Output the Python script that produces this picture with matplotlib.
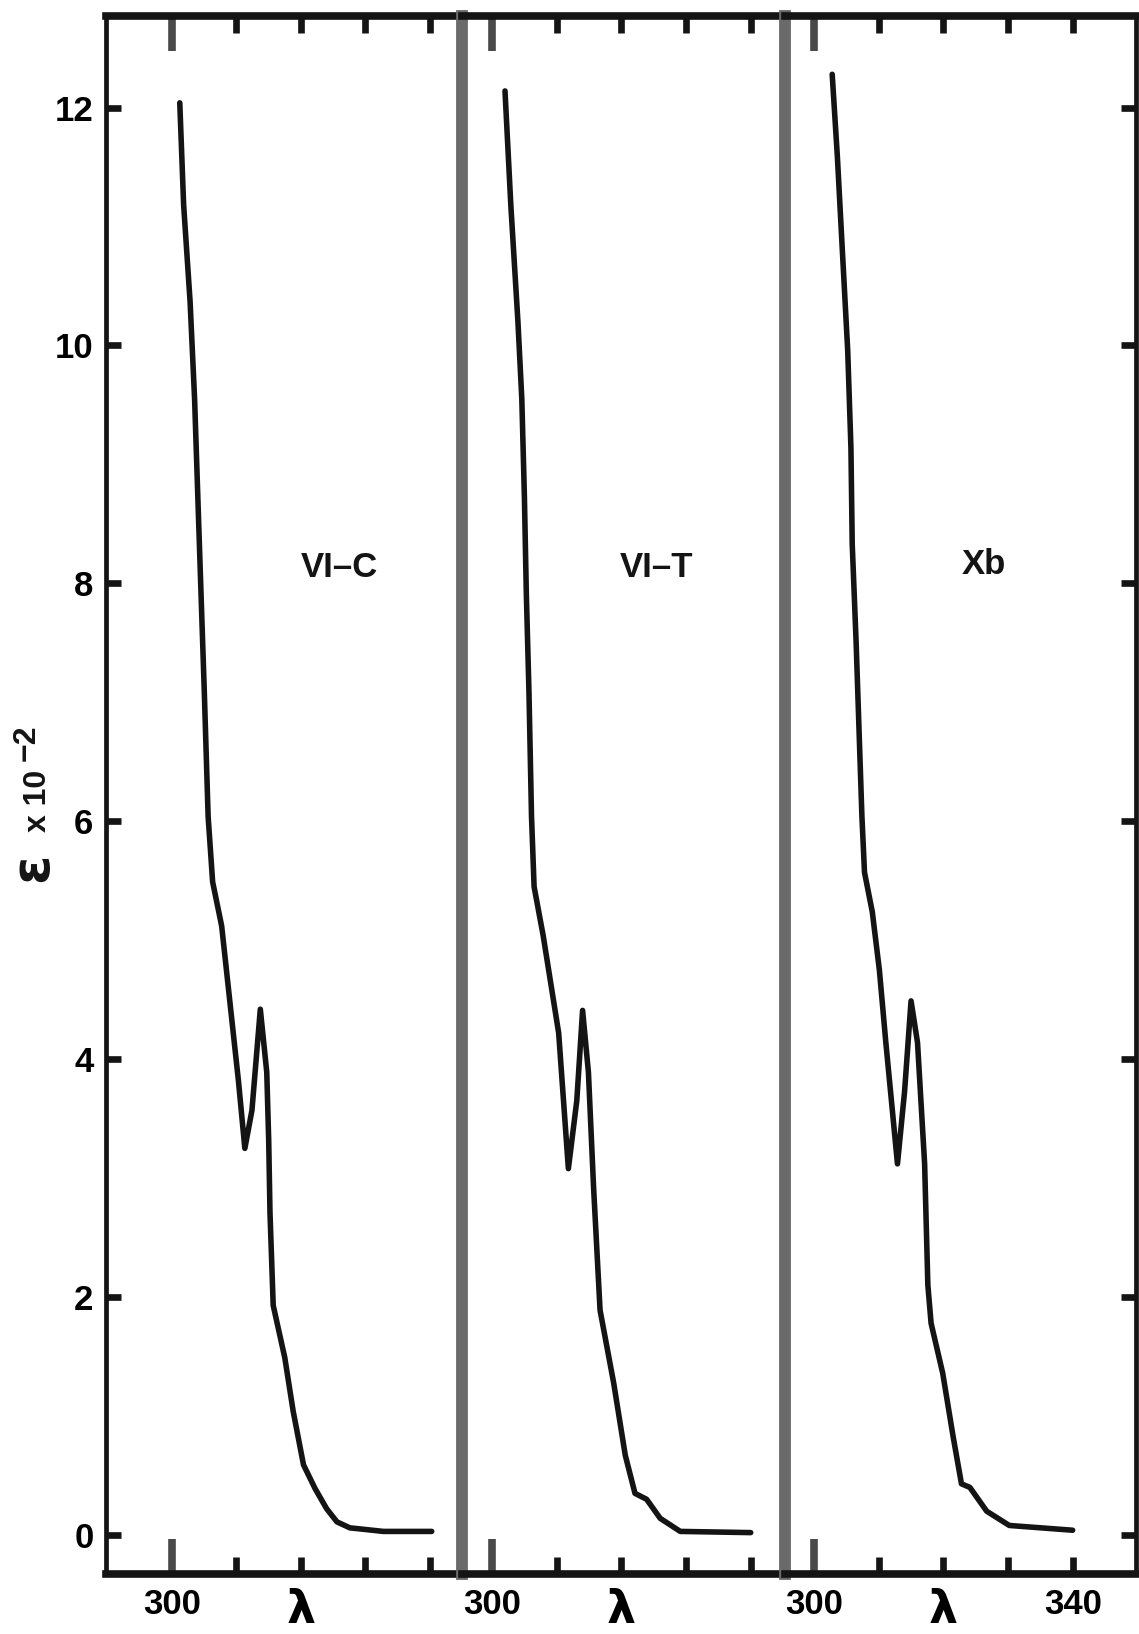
import matplotlib
matplotlib.use("Agg")
import matplotlib.pyplot as plt

# ---- data (wavelength nm, epsilon x 10^-2) ----
wl_vic = [301.2, 301.8, 302.8, 303.5, 304.0, 304.5, 305.0, 305.6, 306.3, 307.7, 309.0,
          310.3, 311.3, 312.4, 313.7, 314.7, 315.0, 315.2, 315.7, 317.5, 318.8, 320.4,
          322.2, 324.0, 325.6, 327.6, 332.8, 340.3]
eps_vic = [12.04, 11.18, 10.37, 9.55, 8.73, 7.91, 7.10, 6.04, 5.49, 5.12, 4.47,
           3.82, 3.25, 3.57, 4.42, 3.89, 3.32, 2.71, 1.93, 1.49, 1.04, 0.59,
           0.39, 0.22, 0.11, 0.06, 0.03, 0.03]

wl_vit = [302.0, 302.9, 304.0, 304.6, 305.0, 305.3, 305.7, 306.1, 306.5, 307.9, 310.3,
          311.8, 313.1, 314.0, 314.9, 315.7, 316.7, 318.8, 320.6, 322.1, 323.9, 326.0,
          329.1, 340.0]
eps_vit = [12.14, 11.18, 10.20, 9.55, 8.73, 7.91, 7.10, 6.04, 5.45, 5.04, 4.22,
           3.08, 3.65, 4.41, 3.89, 2.92, 1.89, 1.28, 0.67, 0.35, 0.30, 0.14,
           0.03, 0.02]

wl_xb = [302.8, 303.6, 304.4, 305.2, 305.7, 305.9, 306.5, 307.0, 307.4, 307.8, 309.0,
         310.1, 311.1, 312.9, 314.0, 315.0, 316.0, 317.1, 317.6, 318.1, 319.9, 321.5,
         322.8, 324.1, 326.7, 330.2, 340.0]
eps_xb = [12.28, 11.59, 10.77, 9.96, 9.14, 8.33, 7.51, 6.69, 6.04, 5.57, 5.24,
          4.75, 4.14, 3.12, 3.73, 4.49, 4.14, 3.12, 2.10, 1.78, 1.36, 0.83,
          0.43, 0.40, 0.20, 0.08, 0.04]

panel_names = ["VI\u2013C", "VI\u2013T", "Xb"]
y_ticks = [0, 2, 4, 6, 8, 10, 12]
x_major = [300]
x_minor = [310, 320, 330, 340]
minor_labels_12 = ["", "\u03bb", "", ""]
minor_labels_3 = ["", "\u03bb", "", "340"]
y_label_sym = "\u03b5"
y_label_mid = "x 10"
y_label_exp = "\u22122"

series = [(wl_vic, eps_vic), (wl_vit, eps_vit), (wl_xb, eps_xb)]

# ---- layout ----
W, H = 1139, 1634
fig = plt.figure(figsize=(W / 100, H / 100), dpi=100)
fig.patch.set_facecolor("white")

top_px, bot_px = 16, 1574
bounds_px = [(106, 462), (462, 785), (785, 1136)]
xlims = [(289.75, 345.0), (295.35, 345.3), (295.5, 349.8)]
ylim = (-0.328, 12.77)
label_pos = [(325.9, 8.13), (325.5, 8.13), (326.3, 8.16)]

tick_font = dict(family=["Liberation Sans", "DejaVu Sans"], weight="bold", size=25)
ink = "#141414"
gray = "#6a6a6a"

for i, ((l, r), (xs, ys)) in enumerate(zip(bounds_px, series)):
    ax = fig.add_axes([l / W, 1 - bot_px / H, (r - l) / W, (bot_px - top_px) / H])
    ax.patch.set_visible(False)
    ax.plot(xs, ys, color=ink, lw=4.0, solid_capstyle="round", solid_joinstyle="round")
    ax.set_xlim(*xlims[i])
    ax.set_ylim(*ylim)

    # spines
    for s in ("top", "bottom"):
        ax.spines[s].set_linewidth(5.5)
        ax.spines[s].set_color(ink)
    ax.spines["left"].set_linewidth(3.4)
    ax.spines["left"].set_color(ink)
    ax.spines["right"].set_linewidth(3.4)
    ax.spines["right"].set_color(ink)
    if i == 0:
        ax.spines["right"].set_color(gray)
        ax.spines["right"].set_linewidth(8.5)
    elif i == 1:
        ax.spines["left"].set_visible(False)
        ax.spines["right"].set_color(gray)
        ax.spines["right"].set_linewidth(8.5)
    else:
        ax.spines["left"].set_visible(False)
    ax.spines["right"].set_zorder(3)

    # x ticks
    ax.set_xticks(x_major)
    ax.set_xticklabels(["300"], fontdict=tick_font)
    ax.set_xticks(x_minor, minor=True)
    ax.set_xticklabels(minor_labels_3 if i == 2 else minor_labels_12, minor=True,
                       fontdict=tick_font)
    for lab in ax.xaxis.get_minorticklabels():
        if lab.get_text() == "\u03bb":
            lab.set_fontsize(33)
            lab.set_family(["DejaVu Sans"])
            lab.set_fontweight("bold")
    ax.tick_params(axis="x", which="major", direction="in", length=25, width=5.5,
                   color="#4a4a4a", top=True, bottom=True, pad=10)
    ax.tick_params(axis="x", which="minor", direction="in", length=12.5, width=4.8,
                   color=ink, top=True, bottom=True, pad=10)

    # y ticks
    ax.set_yticks(y_ticks)
    if i == 0:
        ax.set_yticklabels([str(v) for v in y_ticks], fontdict=tick_font)
        ax.tick_params(axis="y", direction="in", length=11, width=4.8, color=ink,
                       left=True, right=False, labelleft=True, pad=9)
    elif i == 1:
        ax.tick_params(axis="y", left=False, right=False, labelleft=False)
    else:
        ax.tick_params(axis="y", direction="in", length=11, width=4.8, color=ink,
                       left=False, right=True, labelleft=False, labelright=False)

    ax.text(label_pos[i][0], label_pos[i][1], panel_names[i], ha="center", va="center",
            family=["Liberation Sans", "DejaVu Sans"], weight="bold", fontsize=25,
            color=ink)

# y-axis label: epsilon x 10^-2, written vertically
lab_font = ["Liberation Sans", "DejaVu Sans"]
fig.text(38 / W, 1 - 801 / H, y_label_mid, rotation=90, ha="center", va="center",
         fontsize=23, fontweight="bold", color=ink, family=lab_font)
fig.text(27 / W, 1 - 743 / H, y_label_exp, rotation=90, ha="center", va="center",
         fontsize=23, fontweight="bold", color=ink, family=lab_font)
fig.text(32 / W, 1 - 867 / H, y_label_sym, rotation=90, ha="center", va="center",
         fontsize=38, fontweight="bold", color=ink, family=["DejaVu Sans"])

fig.savefig("out.png", dpi=100, facecolor="white")
